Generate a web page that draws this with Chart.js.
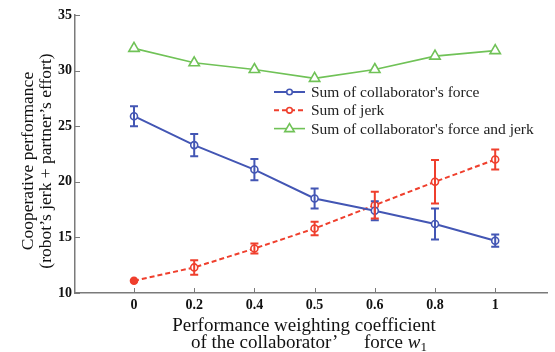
<!DOCTYPE html>
<html lang="en">
<head>
  <meta charset="UTF-8" />
  <title>Cooperative performance</title>
  <script src="https://cdn.jsdelivr.net/npm/chart.js"></script>
  <style>
    body { margin: 0; background: #fff; }
    #wrap { width: 555px; height: 352px; }
  </style>
</head>
<body>
  <div id="wrap"><canvas id="chart" width="555" height="352"></canvas></div>

  <script>
    // weighting coefficient w1 (shown as evenly spaced categories)
    const categories = ['0', '0.2', '0.4', '0.5', '0.6', '0.8', '1'];

    const forceVals = [25.9, 23.3, 21.1, 18.5, 17.4, 16.2, 14.7];
    const forceErr  = [0.9, 1.0, 0.95, 0.9, 0.85, 1.4, 0.55];
    const jerkVals  = [11.1, 12.3, 14.0, 15.8, 17.9, 20.0, 22.0];
    const jerkErr   = [0, 0.65, 0.45, 0.6, 1.2, 1.95, 0.9];
    const sumVals   = [32.0, 30.7, 30.1, 29.3, 30.1, 31.3, 31.8];

    const yTicks = [10, 15, 20, 25, 30, 35];

    const BLUE = '#4356b4';
    const RED = '#ef3f2d';
    const GREEN = '#70c257';
    const AXIS = '#7a7a7a';
    const SERIF = '"Liberation Serif", "DejaVu Serif", serif';

    const pts = vals => vals.map((v, i) => ({ x: i, y: v }));

    const seriesList = [
      { label: "Sum of collaborator's force", color: BLUE, dash: [], style: 'circle', width: 2 },
      { label: 'Sum of jerk', color: RED, dash: [5, 3], style: 'circle', width: 2 },
      { label: "Sum of collaborator's force and jerk", color: GREEN, dash: [], style: 'triangle', width: 1.6 }
    ];

    function marker(ctx, style, x, y, r, color) {
      ctx.save();
      ctx.setLineDash([]);
      ctx.strokeStyle = color;
      ctx.fillStyle = '#fff';
      ctx.lineWidth = 1.6;
      ctx.beginPath();
      if (style === 'triangle') {
        ctx.moveTo(x, y - r);
        ctx.lineTo(x + r * 0.95, y + r * 0.6);
        ctx.lineTo(x - r * 0.95, y + r * 0.6);
        ctx.closePath();
      } else {
        ctx.arc(x, y, r, 0, Math.PI * 2);
      }
      ctx.fill();
      ctx.stroke();
      ctx.restore();
    }

    // error bars, inward ticks, legend and axis titles
    const extras = {
      id: 'extras',
      beforeDatasetsDraw(chart) {
        const { ctx, scales: { x, y }, chartArea: a } = chart;
        ctx.save();
        ctx.strokeStyle = AXIS;
        ctx.lineWidth = 1;
        yTicks.forEach(t => {
          const py = Math.round(y.getPixelForValue(t)) + 0.5;
          ctx.beginPath(); ctx.moveTo(a.left, py); ctx.lineTo(a.left + 5, py); ctx.stroke();
        });
        categories.forEach((c, i) => {
          const px = Math.round(x.getPixelForValue(i)) + 0.5;
          ctx.beginPath(); ctx.moveTo(px, a.bottom); ctx.lineTo(px, a.bottom - 5); ctx.stroke();
        });
        ctx.restore();
      },
      afterDatasetsDraw(chart) {
        const { ctx, scales: { x, y } } = chart;
        const bars = [[forceVals, forceErr, BLUE], [jerkVals, jerkErr, RED]];
        ctx.save();
        bars.forEach(([vals, errs, color]) => {
          ctx.strokeStyle = color;
          ctx.lineWidth = 2;
          vals.forEach((v, i) => {
            if (!errs[i]) return;
            const px = x.getPixelForValue(i);
            const top = y.getPixelForValue(v + errs[i]);
            const bot = y.getPixelForValue(v - errs[i]);
            ctx.beginPath();
            ctx.moveTo(px, top); ctx.lineTo(px, bot);
            ctx.moveTo(px - 4, top); ctx.lineTo(px + 4, top);
            ctx.moveTo(px - 4, bot); ctx.lineTo(px + 4, bot);
            ctx.stroke();
          });
        });

        // legend
        ctx.font = '15.5px ' + SERIF;
        ctx.textBaseline = 'middle';
        ctx.fillStyle = '#222';
        seriesList.forEach((s, k) => {
          const ly = 92 + k * 18.3;
          ctx.strokeStyle = s.color;
          ctx.lineWidth = s.width;
          ctx.setLineDash(s.dash);
          ctx.beginPath(); ctx.moveTo(274, ly); ctx.lineTo(305, ly); ctx.stroke();
          ctx.setLineDash([]);
          marker(ctx, s.style, 289.5, ly, s.style === 'triangle' ? 5 : 2.8, s.color);
          ctx.fillText(s.label, 311, ly + 1);
        });

        // y title
        ctx.save();
        ctx.translate(28, 161);
        ctx.rotate(-Math.PI / 2);
        ctx.textAlign = 'center';
        ctx.textBaseline = 'middle';
        ctx.font = '17.5px ' + SERIF;
        ctx.fillStyle = '#111';
        ctx.fillText('Cooperative performance', 0, 0);
        ctx.fillText('(robot\u2019s jerk + partner\u2019s effort)', 0, 18);
        ctx.restore();

        // x title
        ctx.textAlign = 'center';
        ctx.textBaseline = 'alphabetic';
        ctx.font = '19px ' + SERIF;
        ctx.fillStyle = '#111';
        ctx.fillText('Performance weighting coefficient', 304, 331);
        ctx.textAlign = 'left';
        ctx.fillText('of the collaborator\u2019', 191, 348);
        ctx.fillText('force', 364, 348);
        let sx = 364 + ctx.measureText('force ').width;
        ctx.font = 'italic 19px ' + SERIF;
        ctx.fillText('w', sx, 348);
        sx += ctx.measureText('w').width;
        ctx.font = '13px ' + SERIF;
        ctx.fillText('1', sx, 351);
        ctx.restore();
      }
    };

    new Chart(document.getElementById('chart'), {
      type: 'line',
      data: {
        datasets: [
          {
            label: seriesList[0].label, data: pts(forceVals),
            borderColor: BLUE, borderWidth: 2,
            pointStyle: 'circle', pointRadius: 3.5, pointBorderWidth: 1.6,
            pointBackgroundColor: '#fff', pointBorderColor: BLUE
          },
          {
            label: seriesList[1].label, data: pts(jerkVals),
            borderColor: RED, borderWidth: 2, borderDash: [5, 3],
            pointStyle: 'circle', pointRadius: 3.5, pointBorderWidth: 1.6,
            pointBackgroundColor: jerkVals.map((v, i) => i === 0 ? RED : '#fff'), pointBorderColor: RED
          },
          {
            label: seriesList[2].label, data: pts(sumVals),
            borderColor: GREEN, borderWidth: 1.6,
            pointStyle: 'triangle', pointRadius: 6, pointBorderWidth: 1.6,
            pointBackgroundColor: '#fff', pointBorderColor: GREEN
          }
        ]
      },
      options: {
        responsive: false,
        animation: false,
        layout: { padding: { top: 15, right: 0, left: 0, bottom: 0 } },
        plugins: { legend: { display: false }, tooltip: { enabled: false } },
        scales: {
          x: {
            type: 'linear',
            min: -0.98, max: 6.867,
            afterFit: s => { s.height = 59; },
            afterBuildTicks: s => { s.ticks = categories.map((c, i) => ({ value: i })); },
            grid: { display: false, drawTicks: false },
            border: { display: true, color: AXIS, width: 1.5 },
            ticks: {
              padding: 4, maxRotation: 0, autoSkip: false,
              color: '#111', font: { family: SERIF, size: 14, weight: 'bold' },
              callback: v => categories[v] !== undefined ? categories[v] : ''
            }
          },
          y: {
            min: 10, max: 35,
            afterFit: s => { s.width = 75; },
            afterBuildTicks: s => { s.ticks = yTicks.map(v => ({ value: v })); },
            grid: { display: false, drawTicks: false },
            border: { display: true, color: AXIS, width: 1.5 },
            ticks: {
              padding: 3,
              color: '#111', font: { family: SERIF, size: 14, weight: 'bold' }
            }
          }
        }
      },
      plugins: [extras]
    });
  </script>
</body>
</html>
